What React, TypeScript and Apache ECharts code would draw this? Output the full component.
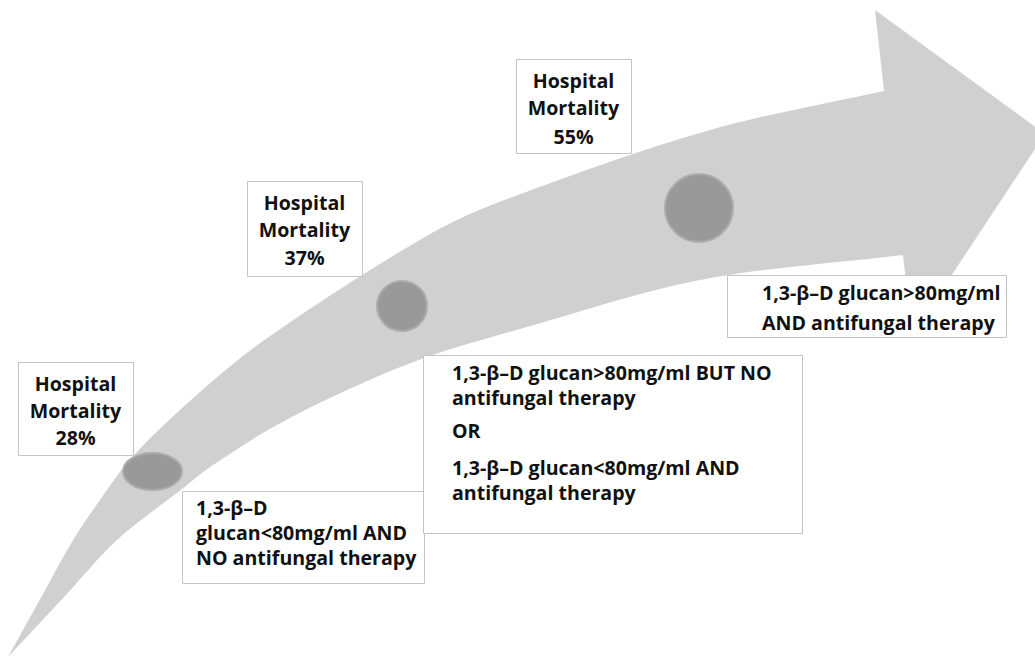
import React, { useEffect, useRef } from "react";
import * as echarts from "echarts";

// ---- content ----
const mortality = [28, 37, 55];
const mortalityWords = ["Hospital", "Mortality"];
const conditions: string[][] = [
  ["1,3-β–D", "glucan<80mg/ml AND", "NO antifungal therapy"],
  [
    "1,3-β–D glucan>80mg/ml BUT NO",
    "antifungal therapy",
    "OR",
    "1,3-β–D glucan<80mg/ml AND",
    "antifungal therapy",
  ],
  ["1,3-β–D glucan>80mg/ml", "AND antifungal therapy"],
];

// ---- layout (decorative diagram geometry) ----
const mortBoxes = [
  { x: 18, y: 362, w: 115, h: 93, cx: 75.5, ys: [383, 410, 437] },
  { x: 247, y: 181, w: 115, h: 95, cx: 304.5, ys: [202, 229, 257] },
  { x: 516, y: 59, w: 115, h: 94, cx: 573.5, ys: [80, 107, 136] },
];
const condBoxes = [
  { x: 182, y: 491, w: 242, h: 92, tx: 196, ys: [507, 532, 557] },
  { x: 423, y: 355, w: 379, h: 178, tx: 452, ys: [372, 397, 430, 467, 492] },
  { x: 727, y: 275, w: 279, h: 62, tx: 762, ys: [292, 322] },
];
const dots = [
  { cx: 152.5, cy: 471.5, rx: 29.5, ry: 18.5 },
  { cx: 402, cy: 306, rx: 25, ry: 25 },
  { cx: 699, cy: 208, rx: 34, ry: 34 },
];
const upperEdge: number[][] = [
  [8, 657], [43, 594], [72, 542], [100, 500], [133, 456], [200, 392],
  [270, 336], [430, 234], [510, 198], [710, 130], [884, 91],
];
const lowerEdge: number[][] = [
  [903, 255], [700, 280], [520, 329], [427, 357], [347, 390], [275, 426],
  [210, 467], [182, 489], [117, 540], [65, 596], [8, 657],
];
const arrowHead: number[][] = [[875, 10], [1045, 134], [912, 335]];

function unit(dx: number, dy: number): number[] {
  const l = Math.hypot(dx, dy) || 1;
  return [dx / l, dy / l];
}

function smoothCurve(pts: number[][]): string {
  const n = pts.length;
  const tan = pts.map((p, i) => {
    const a = pts[Math.max(0, i - 1)];
    const b = pts[Math.min(n - 1, i + 1)];
    return unit(b[0] - a[0], b[1] - a[1]);
  });
  let d = "";
  for (let i = 0; i < n - 1; i++) {
    const p1 = pts[i];
    const p2 = pts[i + 1];
    const len = Math.hypot(p2[0] - p1[0], p2[1] - p1[1]) / 3;
    const c1x = p1[0] + tan[i][0] * len;
    const c1y = p1[1] + tan[i][1] * len;
    const c2x = p2[0] - tan[i + 1][0] * len;
    const c2y = p2[1] - tan[i + 1][1] * len;
    d += ` C ${c1x} ${c1y} ${c2x} ${c2y} ${p2[0]} ${p2[1]}`;
  }
  return d;
}

function arrowPath(): string {
  let d = `M ${upperEdge[0][0]} ${upperEdge[0][1]}`;
  d += smoothCurve(upperEdge);
  arrowHead.forEach((p) => (d += ` L ${p[0]} ${p[1]}`));
  d += ` L ${lowerEdge[0][0]} ${lowerEdge[0][1]}`;
  d += smoothCurve(lowerEdge);
  d += " Z";
  return d;
}

const FONT = "'Open Sans', 'Noto Sans', sans-serif";
const FS = 19.6;

export default function App() {
  const ref = useRef<HTMLDivElement>(null);
  useEffect(() => {
    if (!ref.current) return;
    echarts.graphic.registerShape("arrowBody", echarts.graphic.extendPath(arrowPath(), {}) as any);
    const chart = echarts.init(ref.current, undefined, { renderer: "svg" });

    const els: any[] = [];
    els.push({ type: "arrowBody", x: 0, y: 0, z: 1, style: { fill: "#d0d0d0" } });
    dots.forEach((c) => {
      els.push({
        type: "ellipse",
        z: 2,
        shape: { cx: c.cx, cy: c.cy, rx: c.rx, ry: c.ry },
        style: { fill: "#999999", stroke: "#acacac", lineWidth: 2 },
      });
    });
    const textStyle = (text: string, x: number, y: number, align: string) => ({
      text,
      x,
      y,
      fill: "#111111",
      fontFamily: FONT,
      fontWeight: "bold",
      fontSize: FS,
      align,
      textAlign: align,
      verticalAlign: "middle",
      textVerticalAlign: "middle",
    });
    mortBoxes.forEach((b, i) => {
      els.push({
        type: "rect",
        z: 3,
        shape: { x: b.x + 0.5, y: b.y + 0.5, width: b.w, height: b.h },
        style: { fill: "#ffffff", stroke: "#c4c4c4", lineWidth: 1 },
      });
      const lines = [...mortalityWords, `${mortality[i]}%`];
      lines.forEach((t, j) => {
        els.push({ type: "text", z: 4, style: textStyle(t, b.cx, b.ys[j], "center") });
      });
    });
    condBoxes.forEach((b, i) => {
      els.push({
        type: "rect",
        z: 3,
        shape: { x: b.x + 0.5, y: b.y + 0.5, width: b.w, height: b.h },
        style: { fill: "#ffffff", stroke: "#c4c4c4", lineWidth: 1 },
      });
      conditions[i].forEach((t, j) => {
        els.push({ type: "text", z: 4, style: textStyle(t, b.tx, b.ys[j], "left") });
      });
    });

    chart.setOption({
      animation: false,
      backgroundColor: "#ffffff",
      graphic: { elements: els },
    });
    return () => chart.dispose();
  }, []);
  return (
    <div
      ref={ref}
      style={{ position: "absolute", left: 0, top: 0, width: 1035, height: 658, background: "#fff" }}
    />
  );
}
